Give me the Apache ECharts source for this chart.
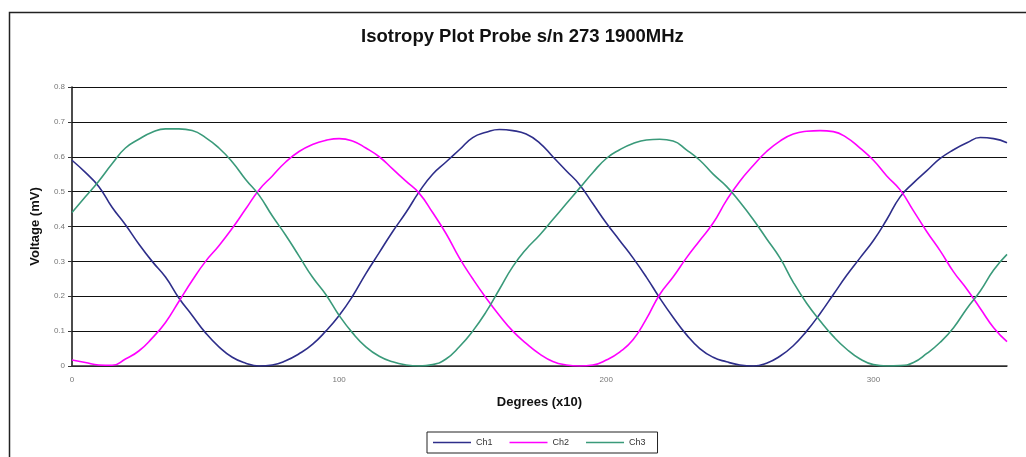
<!DOCTYPE html>
<html>
<head>
<meta charset="utf-8">
<script src="https://cdn.jsdelivr.net/npm/echarts@6/dist/echarts.min.js"></script>
<style>
html,body{margin:0;padding:0;background:#fff;}
#chart{width:1026px;height:457px;}
</style>
</head>
<body>
<div id="chart"></div>
<script>
// X positions (Degrees x10)
const degrees = [0,5,10,15,20,25,30,35,40,45,50,55,60,65,70,75,80,85,90,95,100,105,110,115,120,125,130,135,140,145,150,155,160,165,170,175,180,185,190,195,200,205,210,215,220,225,230,235,240,245,250,255,260,265,270,275,280,285,290,295,300,305,310,315,320,325,330,335,340,345,350];

const ch1 = [0.59,0.555,0.515,0.455,0.405,0.35,0.30,0.255,0.195,0.145,0.095,0.055,0.025,0.008,0.0,0.003,0.015,0.035,0.062,0.10,0.145,0.20,0.265,0.325,0.385,0.44,0.50,0.55,0.585,0.62,0.655,0.67,0.678,0.675,0.665,0.64,0.60,0.56,0.52,0.465,0.41,0.36,0.31,0.255,0.195,0.14,0.09,0.05,0.025,0.012,0.003,0.0,0.008,0.028,0.058,0.10,0.15,0.205,0.26,0.31,0.36,0.42,0.485,0.525,0.56,0.595,0.62,0.64,0.655,0.652,0.64];

const ch2 = [0.017,0.01,0.003,0.002,0.02,0.043,0.08,0.125,0.185,0.245,0.30,0.345,0.395,0.45,0.505,0.545,0.585,0.615,0.635,0.647,0.652,0.645,0.625,0.60,0.565,0.53,0.495,0.44,0.38,0.31,0.25,0.195,0.145,0.10,0.065,0.035,0.013,0.003,0.0,0.003,0.017,0.04,0.075,0.135,0.205,0.255,0.31,0.36,0.41,0.475,0.53,0.575,0.615,0.645,0.665,0.673,0.675,0.672,0.655,0.625,0.59,0.545,0.505,0.445,0.385,0.33,0.27,0.22,0.165,0.11,0.07];

const ch3 = [0.44,0.485,0.53,0.58,0.625,0.65,0.67,0.68,0.68,0.675,0.655,0.625,0.585,0.535,0.49,0.43,0.375,0.315,0.255,0.205,0.145,0.095,0.055,0.028,0.012,0.003,0.0,0.004,0.02,0.055,0.10,0.155,0.22,0.285,0.335,0.375,0.42,0.465,0.51,0.555,0.595,0.62,0.638,0.648,0.65,0.645,0.62,0.59,0.55,0.515,0.47,0.42,0.365,0.31,0.24,0.18,0.13,0.085,0.048,0.02,0.004,0.0,0.001,0.01,0.036,0.068,0.11,0.165,0.215,0.275,0.32];

const seriesNames = ['Ch1','Ch2','Ch3'];
const seriesColors = ['#2e2e8a','#ff00ff','#3a9a7a'];
const seriesValues = [ch1, ch2, ch3];

const chart = echarts.init(document.getElementById('chart'), null, {renderer:'canvas'});
const fontFam = '"Liberation Sans", Arial, sans-serif';

chart.setOption({
  backgroundColor:'#fff',
  animation:false,
  title:{
    text:'Isotropy Plot Probe s/n 273 1900MHz',
    left:356, top:22,
    textStyle:{fontFamily:fontFam,fontSize:18.5,fontWeight:'bold',color:'#111'}
  },
  graphic:[{
    type:'rect', left:7, top:10, silent:true,
    shape:{x:0,y:0,width:1040,height:470},
    style:{fill:'none',stroke:'#222',lineWidth:1.5}
  }],
  legend:{
    data:seriesNames,
    left:427, top:432,
    orient:'horizontal',
    icon:'rect',
    itemWidth:38, itemHeight:1.5, itemGap:17,
    padding:[6,12,6,6],
    borderColor:'#222', borderWidth:1,
    textStyle:{fontFamily:fontFam,fontSize:9,color:'#333'}
  },
  grid:{left:72,right:19,top:87,bottom:91,containLabel:false},
  xAxis:{
    type:'value', min:0, max:350, interval:100,
    name:'Degrees (x10)', nameLocation:'middle', nameGap:30,
    nameTextStyle:{fontFamily:fontFam,fontSize:13,fontWeight:'bold',color:'#111'},
    axisLine:{show:true,lineStyle:{color:'#333',width:1.5}},
    axisTick:{show:false},
    splitLine:{show:false},
    axisLabel:{fontFamily:fontFam,fontSize:8,color:'#777',margin:10,showMaxLabel:false}
  },
  yAxis:{
    type:'value', min:0, max:0.8, interval:0.1,
    name:'Voltage (mV)', nameLocation:'middle', nameGap:30, nameRotate:90,
    nameTextStyle:{fontFamily:fontFam,fontSize:13,fontWeight:'bold',color:'#111'},
    axisLine:{show:true,lineStyle:{color:'#111',width:1.5}},
    axisTick:{show:true,length:4,lineStyle:{color:'#333'}},
    splitLine:{show:true,lineStyle:{color:'#111',width:1.2}},
    axisLabel:{fontFamily:fontFam,fontSize:8,color:'#777',margin:7,
      formatter:function(v){return v===0?'0':v.toFixed(1);}}
  },
  series:seriesNames.map(function(n,i){
    return {
      name:n, type:'line', symbol:'none', smooth:true,
      data:degrees.map(function(d,j){return [d, seriesValues[i][j]];}),
      lineStyle:{color:seriesColors[i],width:1.6},
      itemStyle:{color:seriesColors[i]}
    };
  })
});
</script>
</body>
</html>
